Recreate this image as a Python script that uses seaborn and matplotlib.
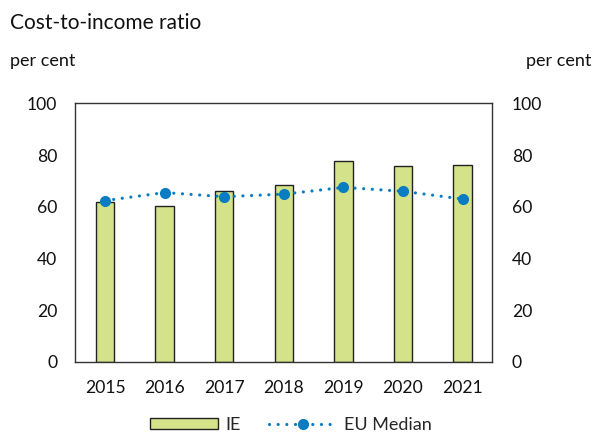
import matplotlib
matplotlib.use("Agg")
import matplotlib.pyplot as plt
import seaborn as sns
import pandas as pd
import numpy as np
from matplotlib.lines import Line2D
from matplotlib.patches import Patch

years = ["2015", "2016", "2017", "2018", "2019", "2020", "2021"]
ie = [61.7, 60.3, 66.0, 68.6, 77.9, 75.8, 76.3]
eu_median = [62.4, 65.5, 63.9, 64.9, 67.5, 66.0, 63.0]

sns.set_theme(style="white")
plt.rcParams['font.family'] = ['Lato', 'DejaVu Sans']

bar_color = "#d4e38a"
line_color = "#0a7cc1"
dot_style = (0, (0.01, 2.7))

fig = plt.figure(figsize=(5.97, 4.32), dpi=100)
ax = fig.add_axes([75.3/597, 1 - 361.7/432, (492.3-75.3)/597, (361.7-103.5)/432])

df = pd.DataFrame({"year": years, "IE": ie, "EU": eu_median})
sns.barplot(data=df, x="year", y="IE", ax=ax, color=bar_color, width=0.31,
            edgecolor="#222222", linewidth=1.0, saturation=1)
ax.plot(np.arange(len(years)), eu_median, linestyle=dot_style, linewidth=2.3,
        color=line_color, marker="o", markersize=7, dash_capstyle="round")

ax.set_ylim(0, 100)
ax.set_xlim(-0.5, 6.5)
ax.set_yticks(range(0, 101, 20))
ax.set_xlabel("")
ax.set_ylabel("")
ax.tick_params(axis="y", labelsize=12.6, colors="#111111", length=0, pad=13)
ax.tick_params(axis="x", labelsize=12.6, colors="#111111", length=0, pad=13)
for s in ax.spines.values():
    s.set_visible(True)
    s.set_color("#333333")
    s.set_linewidth(1.0)

ax2 = ax.twinx()
ax2.set_ylim(0, 100)
ax2.set_yticks(range(0, 101, 20))
ax2.tick_params(axis="y", labelsize=12.6, colors="#111111", length=0, pad=14)
for s in ax2.spines.values():
    s.set_visible(False)
ax2.grid(False)
ax.grid(False)

fig.text(10/597, 1 - 23/432, "Cost-to-income ratio", fontsize=15, va="center", ha="left", color="#111111")
fig.text(10/597, 1 - 61/432, "per cent", fontsize=13, va="center", ha="left", color="#111111")
fig.text(591/597, 1 - 61/432, "per cent", fontsize=13, va="center", ha="right", color="#111111")

handles = [Patch(facecolor=bar_color, edgecolor="#222222", linewidth=1.0),
           Line2D([0], [0], linestyle=dot_style, linewidth=2.3, color=line_color,
                  marker="o", markersize=7, dash_capstyle="round")]
fig.legend(handles, ["IE", "EU Median"], loc="center", bbox_to_anchor=(291/597, 1 - 425/432),
           ncol=2, frameon=False, fontsize=13, handlelength=3.8, handleheight=0.55,
           columnspacing=1.55, handletextpad=0.39)

fig.savefig("out.png", dpi=100)
